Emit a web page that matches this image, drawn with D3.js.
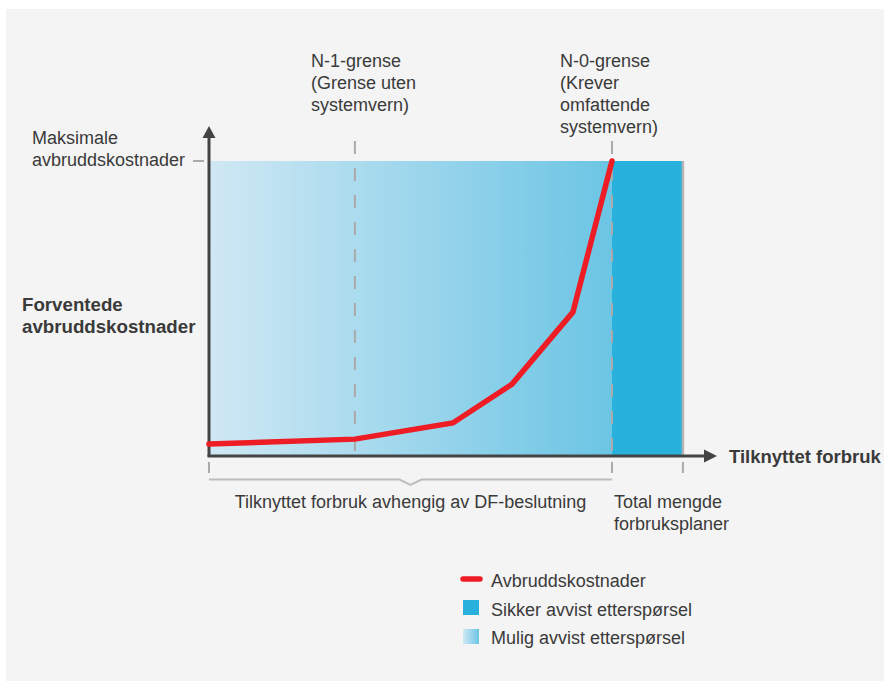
<!DOCTYPE html>
<html>
<head>
<meta charset="utf-8">
<script src="https://cdn.jsdelivr.net/npm/d3@7"></script>
<style>
  body { margin: 0; background: #fff; }
  svg { display: block; }
  text { font-family: "Liberation Sans", Arial, sans-serif; fill: #3a3a3a; }
</style>
</head>
<body>
<div class="svgcontainer"></div>
<script>
// forbruk (x, N-0-grense = 100) and forventede avbruddskostnader (y, maks = 100)
const costX = [0, 36.2, 60.5, 75.2, 90.3, 100];
const costY = [3.7, 5.4, 10.9, 24.1, 48.6, 100];
const n1Limit = 36.2;
const n0Limit = 100;
const totalDemand = 117.6;
const maxCost = 100;

const legendItems = ["Avbruddskostnader", "Sikker avvist etterspørsel", "Mulig avvist etterspørsel"];
const n1Label = ["N-1-grense", "(Grense uten", "systemvern)"];
const n0Label = ["N-0-grense", "(Krever", "omfattende", "systemvern)"];

const W = 884, H = 681;
const svg = d3.select('.svgcontainer').append('svg')
    .attr('width', W).attr('height', H);

// panel background
svg.append('rect').attr('x', 6).attr('y', 9).attr('width', W - 6).attr('height', H - 9)
    .attr('fill', '#f4f4f4');

const x = d3.scaleLinear().domain([0, 100]).range([209, 612]);
const y = d3.scaleLinear().domain([0, 100]).range([455, 161]);

const defs = svg.append('defs');
const grad = defs.append('linearGradient').attr('id', 'mulig')
    .attr('x1', '0%').attr('x2', '100%').attr('y1', '0%').attr('y2', '0%');
grad.append('stop').attr('offset', '0%').attr('stop-color', '#d0e8f4');
grad.append('stop').attr('offset', '100%').attr('stop-color', '#6bc5e4');

// possible rejected demand (gradient)
svg.append('rect')
    .attr('x', x(0)).attr('y', y(maxCost))
    .attr('width', x(n0Limit) - x(0)).attr('height', y(0) - y(maxCost))
    .attr('fill', 'url(#mulig)');

// certain rejected demand
svg.append('rect')
    .attr('x', x(n0Limit)).attr('y', y(maxCost))
    .attr('width', x(totalDemand) - x(n0Limit)).attr('height', y(0) - y(maxCost))
    .attr('fill', '#29b1dd');

// right edge of total demand
svg.append('line')
    .attr('x1', x(totalDemand)).attr('x2', x(totalDemand))
    .attr('y1', y(maxCost)).attr('y2', y(0))
    .attr('stroke', '#b3b3b3').attr('stroke-width', 2.5);

// dashed limit lines
[n1Limit, n0Limit].forEach(v => {
    svg.append('line')
        .attr('x1', x(v)).attr('x2', x(v))
        .attr('y1', 141).attr('y2', y(0))
        .attr('stroke', '#aaaaaa').attr('stroke-width', 2)
        .attr('stroke-dasharray', '13,14');
});

// ticks below the x axis
[0, n0Limit, totalDemand].forEach(v => {
    svg.append('line')
        .attr('x1', x(v)).attr('x2', x(v))
        .attr('y1', 462).attr('y2', 473)
        .attr('stroke', '#aaaaaa').attr('stroke-width', 2);
});

// max cost tick
svg.append('line')
    .attr('x1', 193).attr('x2', 204)
    .attr('y1', y(maxCost)).attr('y2', y(maxCost))
    .attr('stroke', '#aaaaaa').attr('stroke-width', 2);

// bracket under the axis
const bx0 = x(0), bx1 = x(n0Limit), bm = (bx0 + bx1) / 2, by = 479.5;
svg.append('path')
    .attr('d', `M${bx0},${by}H${bm - 11}L${bm},${by + 5.5}L${bm + 11},${by}H${bx1}`)
    .attr('fill', 'none').attr('stroke', '#bdbdbd').attr('stroke-width', 2);

// axes with arrows
svg.append('line').attr('x1', x(0)).attr('x2', x(0)).attr('y1', y(0) + 1.5).attr('y2', 137)
    .attr('stroke', '#444').attr('stroke-width', 3);
svg.append('path').attr('d', 'M202.5,138L209,126L215.5,138Z').attr('fill', '#444');
svg.append('line').attr('x1', x(0) - 1.5).attr('x2', 705).attr('y1', y(0) + 1).attr('y2', y(0) + 1)
    .attr('stroke', '#444').attr('stroke-width', 3);
svg.append('path').attr('d', `M704,${y(0) - 5.5}L717,${y(0) + 1}L704,${y(0) + 7.5}Z`).attr('fill', '#444');

// cost line
const line = d3.line().x(d => x(d[0])).y(d => y(d[1]));
svg.append('path')
    .datum(costX.map((v, i) => [v, costY[i]]))
    .attr('d', line)
    .attr('fill', 'none').attr('stroke', '#ee1c25').attr('stroke-width', 5.5)
    .attr('stroke-linejoin', 'miter').attr('stroke-linecap', 'round');

// text helper
function lines(arr, tx, ty, lh, opts = {}) {
    const t = svg.append('text').attr('x', tx).attr('y', ty)
        .attr('font-size', opts.size || 18)
        .attr('font-weight', opts.bold ? 'bold' : 'normal')
        .attr('text-anchor', opts.anchor || 'start');
    arr.forEach((s, i) => {
        t.append('tspan').attr('x', tx).attr('dy', i === 0 ? 0 : lh).text(s);
    });
    return t;
}

lines(n1Label, 311, 67, 22);
lines(n0Label, 560, 67, 22);
lines(["Maksimale", "avbruddskostnader"], 32, 144, 22);
lines(["Forventede", "avbruddskostnader"], 22, 311, 22, { bold: true, size: 18.7 });
lines(["Tilknyttet forbruk"], 729, 463, 22, { bold: true, size: 18.5 });
lines(["Tilknyttet forbruk avhengig av DF-beslutning"], bm, 508, 22, { anchor: 'middle' });
lines(["Total mengde", "forbruksplaner"], 614, 508, 22);

// legend
const lg = svg.append('g').attr('transform', 'translate(461,579)');
lg.append('line').attr('x1', 2).attr('x2', 19).attr('y1', 0).attr('y2', 0)
    .attr('stroke', '#ee1c25').attr('stroke-width', 5.5).attr('stroke-linecap', 'round');
lg.append('rect').attr('x', 2).attr('y', 21).attr('width', 16).attr('height', 15).attr('fill', '#29b1dd');
lg.append('rect').attr('x', 2).attr('y', 50).attr('width', 16).attr('height', 15).attr('fill', 'url(#mulig)');
lg.selectAll('text.leg').data(legendItems).enter().append('text')
    .attr('class', 'leg')
    .attr('x', 30).attr('y', (d, i) => 8 + i * 28.5)
    .attr('font-size', 18)
    .text(d => d);
</script>
</body>
</html>
